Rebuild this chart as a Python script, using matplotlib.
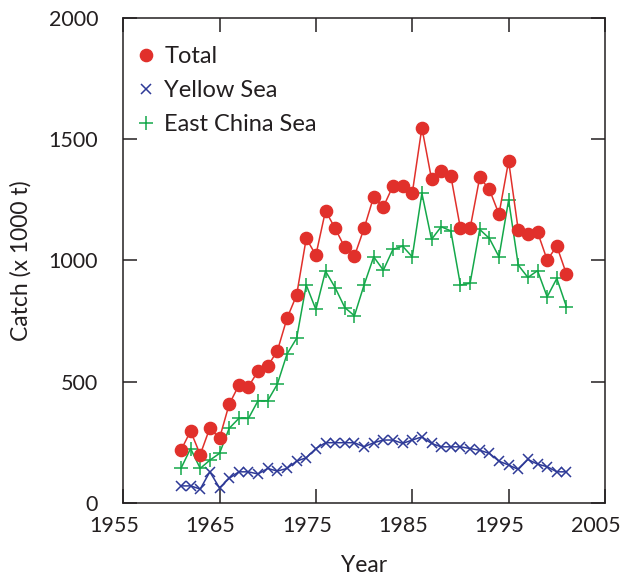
import matplotlib
matplotlib.use("Agg")
import matplotlib.pyplot as plt
from matplotlib.transforms import ScaledTranslation

years = list(range(1961, 2002))
total = [218, 297, 200, 310, 267, 407, 485, 480, 544, 565, 627, 761, 857, 1091,
         1022, 1205, 1132, 1054, 1018, 1132, 1263, 1221, 1307, 1307, 1277, 1547,
         1336, 1370, 1349, 1132, 1132, 1342, 1293, 1191, 1410, 1125, 1109, 1117,
         1002, 1059, 944]
yellow_sea = [71, 71, 58, 129, 63, 102, 129, 129, 120, 143, 132, 143, 173, 187,
              225, 249, 249, 249, 249, 232, 249, 260, 260, 246, 260, 273, 246,
              232, 232, 232, 225, 218, 205, 173, 157, 139, 180, 161, 150, 129, 129]
east_china_sea = [143, 225, 143, 177, 205, 308, 349, 349, 422, 422, 490, 614, 679,
                  899, 798, 956, 888, 806, 772, 899, 1015, 960, 1046, 1059, 1015,
                  1277, 1087, 1139, 1122, 899, 906, 1128, 1091, 1015, 1249, 981,
                  930, 958, 850, 926, 809]
xticks = [1955, 1965, 1975, 1985, 1995, 2005]
yticks = [0, 500, 1000, 1500, 2000]

plt.rcParams['font.family'] = ['Lato', 'DejaVu Sans']

fig = plt.figure(figsize=(6.25, 5.75), dpi=100)
ax = fig.add_axes([0.197, 0.125, 0.771, 0.844])

red = '#e1302b'
blue = '#2e3a97'
green = '#14a84a'
ink = '#231f20'

ax.plot(years, total, color=red, lw=1.1, marker='o', ms=8.8, mec=red, mfc=red,
        label='Total', zorder=3)
ax.plot(years, yellow_sea, color=blue, lw=1.1, marker='x', ms=7.5, mew=1.1,
        label='Yellow Sea', zorder=2)
ax.plot(years, east_china_sea, color=green, lw=1.1, marker='+', ms=10, mew=1.1,
        label='East China Sea', zorder=2)

ax.set_xlim(1955, 2005)
ax.set_ylim(0, 2000)
ax.set_xticks(xticks)
ax.set_yticks(yticks)
ax.tick_params(direction='in', length=10, width=1.1, top=True, right=True,
               labelsize=15.5, colors=ink)
ax.tick_params(axis='y', pad=18)
ax.tick_params(axis='x', pad=9)
for s in ax.spines.values():
    s.set_linewidth(1.1)
    s.set_color(ink)

off = ScaledTranslation(-0.09, 0, fig.dpi_scale_trans)
for lbl in ax.get_xticklabels():
    lbl.set_transform(lbl.get_transform() + off)

ax.set_xlabel('Year', fontsize=16.5, color=ink, labelpad=14)
ax.set_ylabel('Catch (x 1000 t)', fontsize=16.5, color=ink, labelpad=12)

leg = ax.legend(loc='upper left', bbox_to_anchor=(-0.008, 0.975), frameon=False,
                fontsize=17, handlelength=0.9, handletextpad=0.3,
                labelspacing=0.55, borderaxespad=0.3)
for h in leg.legend_handles:
    h.set_linestyle('None')
for t in leg.get_texts():
    t.set_color(ink)

fig.savefig('out.png', dpi=100)
